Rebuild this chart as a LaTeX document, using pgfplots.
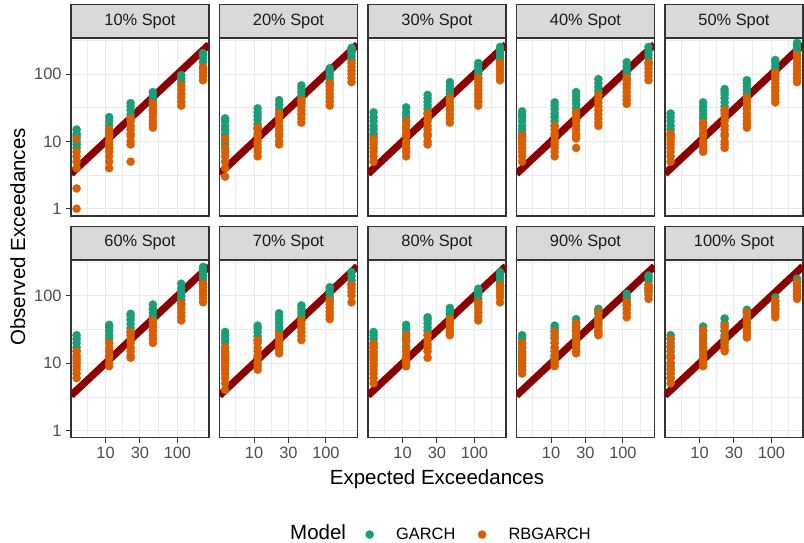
\documentclass[border=0pt]{standalone}
\usepackage{pgfplots}
\pgfplotsset{compat=1.18}
\usepackage{fontspec}
\setmainfont{Liberation Sans}
\definecolor{gridc}{HTML}{EBEBEB}
\definecolor{borderc}{HTML}{333333}
\definecolor{ticklab}{HTML}{4D4D4D}
\definecolor{stripc}{HTML}{D9D9D9}
\definecolor{striptxt}{HTML}{1A1A1A}
\definecolor{garch}{HTML}{1B9E77}
\definecolor{rbgarch}{HTML}{D95F02}
\definecolor{linec}{HTML}{8B0000}
\newcommand{\fsmall}{\fontsize{16.4}{19.7}\selectfont}
\newcommand{\flarge}{\fontsize{20.5}{24.6}\selectfont}
\pgfplotsset{
 panel/.style={
  anchor=south west, scale only axis, width=138pt, height=177.7pt,
  xmin=3.3, xmax=275, ymin=0.78, ymax=340,
  xtick={10,30,100}, xticklabels={10,30,100},
  ytick={1,10,100}, yticklabels={1,10,100},
  minor xtick={5.48,17.3,54.8,173}, minor ytick={3.16,31.6,316},
  grid=both,
  major grid style={draw=gridc, line width=1.1pt},
  minor grid style={draw=gridc, line width=0.55pt},
  minor tick length=0pt, major tick length=5pt, tick align=outside,
  xtick pos=bottom, ytick pos=left,
  tick style={draw=borderc, line width=1.0pt},
  axis line style={draw=borderc, line width=1.1pt},
  ticklabel style={font=\fsmall, text=ticklab},
  xticklabel style={inner sep=0pt, anchor=north, yshift=-4pt},
  yticklabel style={inner sep=0pt, anchor=east, xshift=-4.3pt},
  /pgf/number format/assume math mode=true,
  every axis title shift=0pt,
  title style={at={(0.5,1)}, anchor=south, yshift=0pt, fill=stripc, draw=borderc, line width=1.1pt, minimum width=138pt, minimum height=33.3pt, inner sep=0pt, font=\fsmall, text=striptxt},
 },
 notbottom/.style={xticklabels={}, xtick style={draw=none}},
 notleft/.style={yticklabels={}, ytick style={draw=none}},
 gp/.style={only marks, mark=*, mark size=4.1pt, color=garch, mark options={line width=0.3pt}},
 rp/.style={only marks, mark=*, mark size=4.1pt, color=rbgarch, mark options={line width=0.3pt}},
 dl/.style={no marks, color=linec, line width=7.3pt, forget plot},
}
\begin{document}
\begin{tikzpicture}
\useasboundingbox (0pt,0pt) rectangle (804pt,543pt);
% ---------- 10% ----------
\begin{loglogaxis}[panel, notbottom, at={(71pt,327pt)}, title={10\% Spot}]
\addplot[gp] coordinates {(3.95,8)(3.95,9)(3.95,10)(3.95,12)(3.95,13)(3.95,15)
(11.2,12)(11.2,13)(11.2,15)(11.2,17)(11.2,20)(11.2,23)
(22.3,22)(22.3,25)(22.3,29)(22.3,33)(22.3,37)
(45.5,36)(45.5,41)(45.5,47)(45.5,54)
(113,76)(113,87)(113,97)
(227,150)(227,172)(227,195)(227,205)};
\addplot[rp] coordinates {(3.95,1)(3.95,2)(3.95,4)(3.95,5)(3.95,6)(3.95,7)(3.95,11)
(11.2,4)(11.2,5)(11.2,6)(11.2,7)(11.2,8)(11.2,9)(11.2,10)(11.2,12)(11.2,13)(11.2,15)
(22.3,5)(22.3,9)(22.3,10)(22.3,12)(22.3,13)(22.3,15)(22.3,17)(22.3,20)(22.3,22)
(45.5,16)(45.5,18)(45.5,20)(45.5,23)(45.5,26)(45.5,29)(45.5,33)(45.5,37)
(113,34)(113,39)(113,45)(113,51)(113,59)(113,68)
(227,81)(227,93)(227,106)(227,118)(227,127)};
\addplot[dl] coordinates {(3.3,3.3)(275,275)};
\end{loglogaxis}
% ---------- 20% ----------
\begin{loglogaxis}[panel, notbottom, notleft, at={(219.5pt,327pt)}, title={20\% Spot}]
\addplot[gp] coordinates {(3.95,9)(3.95,10)(3.95,12)(3.95,13)(3.95,15)(3.95,17)(3.95,20)(3.95,22)
(11.2,16)(11.2,18)(11.2,21)(11.2,24)(11.2,27)(11.2,31)
(22.3,26)(22.3,30)(22.3,35)(22.3,41)
(45.5,41)(45.5,47)(45.5,54)(45.5,61)(45.5,68)
(113,76)(113,87)(113,100)(113,112)(113,122)
(227,162)(227,185)(227,210)(227,230)(227,245)};
\addplot[rp] coordinates {(3.95,3)(3.95,4)(3.95,5)(3.95,6)(3.95,7)(3.95,8)(3.95,11)
(11.2,6)(11.2,7)(11.2,8)(11.2,9)(11.2,10)(11.2,12)(11.2,13)(11.2,15)(11.2,16)
(22.3,9)(22.3,10)(22.3,12)(22.3,13)(22.3,15)(22.3,17)(22.3,20)(22.3,23)(22.3,26)
(45.5,19)(45.5,22)(45.5,25)(45.5,29)(45.5,33)(45.5,37)(45.5,41)
(113,34)(113,39)(113,45)(113,51)(113,58)(113,66)(113,73)
(227,76)(227,87)(227,100)(227,113)(227,128)(227,146)};
\addplot[dl] coordinates {(3.3,3.3)(275,275)};
\end{loglogaxis}
% ---------- 30% ----------
\begin{loglogaxis}[panel, notbottom, notleft, at={(368pt,327pt)}, title={30\% Spot}]
\addplot[gp] coordinates {(3.95,12)(3.95,13)(3.95,15)(3.95,17)(3.95,20)(3.95,23)(3.95,27)
(11.2,20)(11.2,23)(11.2,27)(11.2,32)
(22.3,26)(22.3,30)(22.3,34)(22.3,39)(22.3,44)(22.3,49)
(45.5,44)(45.5,50)(45.5,57)(45.5,66)(45.5,76)
(113,87)(113,100)(113,114)(113,130)(113,146)
(227,162)(227,185)(227,210)(227,235)(227,253)};
\addplot[rp] coordinates {(3.95,5)(3.95,6)(3.95,7)(3.95,8)(3.95,9)(3.95,10)(3.95,11)
(11.2,6)(11.2,7)(11.2,8)(11.2,9)(11.2,10)(11.2,12)(11.2,13)(11.2,15)(11.2,17)(11.2,20)
(22.3,9)(22.3,10)(22.3,12)(22.3,13)(22.3,15)(22.3,17)(22.3,20)(22.3,23)(22.3,26)
(45.5,19)(45.5,22)(45.5,25)(45.5,29)(45.5,33)(45.5,38)(45.5,44)
(113,34)(113,39)(113,45)(113,51)(113,58)(113,66)(113,76)(113,87)
(227,81)(227,93)(227,106)(227,121)(227,136)(227,148)};
\addplot[dl] coordinates {(3.3,3.3)(275,275)};
\end{loglogaxis}
% ---------- 40% ----------
\begin{loglogaxis}[panel, notbottom, notleft, at={(516.5pt,327pt)}, title={40\% Spot}]
\addplot[gp] coordinates {(3.95,12)(3.95,13)(3.95,15)(3.95,17)(3.95,20)(3.95,23)(3.95,25)(3.95,28)
(11.2,17)(11.2,20)(11.2,23)(11.2,26)(11.2,30)(11.2,34)(11.2,38)
(22.3,27)(22.3,31)(22.3,36)(22.3,41)(22.3,47)(22.3,54)
(45.5,49)(45.5,56)(45.5,64)(45.5,73)(45.5,84)
(113,87)(113,100)(113,114)(113,130)(113,150)
(227,150)(227,170)(227,195)(227,220)(227,253)};
\addplot[rp] coordinates {(3.95,5)(3.95,6)(3.95,7)(3.95,8)(3.95,9)(3.95,10)(3.95,11)(3.95,12)
(11.2,6)(11.2,7)(11.2,8)(11.2,9)(11.2,10)(11.2,12)(11.2,13)(11.2,15)(11.2,17)
(22.3,8)(22.3,11)(22.3,12)(22.3,13)(22.3,15)(22.3,17)(22.3,20)(22.3,23)(22.3,27)
(45.5,17)(45.5,19)(45.5,22)(45.5,25)(45.5,29)(45.5,33)(45.5,38)(45.5,43)(45.5,49)
(113,36)(113,41)(113,47)(113,54)(113,62)(113,71)(113,80)(113,87)
(227,81)(227,93)(227,106)(227,121)(227,136)(227,148)};
\addplot[dl] coordinates {(3.3,3.3)(275,275)};
\end{loglogaxis}
% ---------- 50% ----------
\begin{loglogaxis}[panel, notbottom, notleft, at={(665pt,327pt)}, title={50\% Spot}]
\addplot[gp] coordinates {(3.95,13)(3.95,15)(3.95,17)(3.95,20)(3.95,23)(3.95,26)
(11.2,19)(11.2,22)(11.2,25)(11.2,29)(11.2,33)(11.2,38)
(22.3,29)(22.3,33)(22.3,38)(22.3,44)(22.3,50)(22.3,55)(22.3,60)
(45.5,45)(45.5,51)(45.5,58)(45.5,66)(45.5,74)(45.5,81)
(113,103)(113,117)(113,132)(113,150)(113,162)
(227,192)(227,215)(227,240)(227,265)(227,290)};
\addplot[rp] coordinates {(3.95,5)(3.95,6)(3.95,7)(3.95,8)(3.95,9)(3.95,10)(3.95,11)(3.95,12)(3.95,13)
(11.2,7)(11.2,8)(11.2,9)(11.2,10)(11.2,12)(11.2,13)(11.2,15)(11.2,17)(11.2,19)
(22.3,8)(22.3,9)(22.3,10)(22.3,12)(22.3,13)(22.3,15)(22.3,17)(22.3,20)(22.3,23)(22.3,26)(22.3,29)
(45.5,16)(45.5,18)(45.5,20)(45.5,23)(45.5,26)(45.5,30)(45.5,34)(45.5,39)(45.5,45)
(113,38)(113,43)(113,49)(113,56)(113,64)(113,73)(113,83)(113,93)(113,103)
(227,76)(227,87)(227,99)(227,113)(227,129)(227,147)(227,167)(227,192)};
\addplot[dl] coordinates {(3.3,3.3)(275,275)};
\end{loglogaxis}
% ---------- 60% ----------
\begin{loglogaxis}[panel, at={(71pt,105.3pt)}, title={60\% Spot}]
\addplot[gp] coordinates {(3.95,15)(3.95,17)(3.95,20)(3.95,23)(3.95,26)
(11.2,20)(11.2,23)(11.2,26)(11.2,30)(11.2,34)(11.2,37)
(22.3,29)(22.3,33)(22.3,38)(22.3,44)(22.3,50)(22.3,54)
(45.5,43)(45.5,49)(45.5,56)(45.5,64)(45.5,74)
(113,76)(113,87)(113,99)(113,113)(113,129)(113,151)
(227,151)(227,172)(227,196)(227,224)(227,250)(227,268)};
\addplot[rp] coordinates {(3.95,6)(3.95,7)(3.95,8)(3.95,9)(3.95,10)(3.95,11)(3.95,12)(3.95,13)(3.95,15)
(11.2,9)(11.2,10)(11.2,12)(11.2,13)(11.2,15)(11.2,17)(11.2,20)
(22.3,12)(22.3,13)(22.3,15)(22.3,17)(22.3,20)(22.3,23)(22.3,26)(22.3,29)
(45.5,20)(45.5,23)(45.5,26)(45.5,30)(45.5,34)(45.5,38)(45.5,43)
(113,43)(113,49)(113,56)(113,64)(113,72)(113,76)
(227,80)(227,91)(227,104)(227,118)(227,134)(227,151)};
\addplot[dl] coordinates {(3.3,3.3)(275,275)};
\end{loglogaxis}
% ---------- 70% ----------
\begin{loglogaxis}[panel, notleft, at={(219.5pt,105.3pt)}, title={70\% Spot}]
\addplot[gp] coordinates {(3.95,12)(3.95,13)(3.95,15)(3.95,17)(3.95,20)(3.95,23)(3.95,26)(3.95,29)
(11.2,22)(11.2,25)(11.2,29)(11.2,33)(11.2,36)
(22.3,26)(22.3,30)(22.3,34)(22.3,39)(22.3,44)(22.3,50)(22.3,55)
(45.5,43)(45.5,49)(45.5,56)(45.5,64)(45.5,72)
(113,85)(113,97)(113,110)(113,124)(113,134)
(227,150)(227,170)(227,195)(227,225)};
\addplot[rp] coordinates {(3.95,4)(3.95,5)(3.95,6)(3.95,7)(3.95,8)(3.95,9)(3.95,10)(3.95,11)(3.95,12)(3.95,14)(3.95,17)
(11.2,8)(11.2,9)(11.2,10)(11.2,12)(11.2,13)(11.2,15)(11.2,17)(11.2,20)(11.2,22)
(22.3,14)(22.3,16)(22.3,18)(22.3,20)(22.3,23)(22.3,26)
(45.5,22)(45.5,25)(45.5,29)(45.5,33)(45.5,38)(45.5,43)
(113,45)(113,51)(113,58)(113,66)(113,75)(113,85)
(227,80)(227,101)(227,115)(227,130)(227,143)};
\addplot[dl] coordinates {(3.3,3.3)(275,275)};
\end{loglogaxis}
% ---------- 80% ----------
\begin{loglogaxis}[panel, notleft, at={(368pt,105.3pt)}, title={80\% Spot},
 legend style={at={(axis description cs:-0.0174,-0.545)}, anchor=west, draw=none, fill=none, inner sep=0pt, outer sep=0pt, nodes={inner sep=0pt, font=\fsmall, text=black}, /tikz/every odd column/.style={column sep=22.4pt}, /tikz/every even column/.style={column sep=22.6pt}},
 legend columns=2,
 legend image code/.code={\draw[#1] plot coordinates {(0pt,0pt)};}]
\addplot[gp] coordinates {(3.95,13)(3.95,15)(3.95,17)(3.95,20)(3.95,23)(3.95,26)(3.95,29)
(11.2,18)(11.2,21)(11.2,24)(11.2,28)(11.2,32)(11.2,37)
(22.3,26)(22.3,30)(22.3,34)(22.3,39)(22.3,44)(22.3,48)
(45.5,41)(45.5,47)(45.5,54)(45.5,60)(45.5,66)
(113,80)(113,91)(113,104)(113,116)(113,127)
(227,142)(227,162)(227,185)(227,210)(227,225)};
\addlegendentry{GARCH}
\addplot[rp] coordinates {(3.95,5)(3.95,6)(3.95,7)(3.95,8)(3.95,9)(3.95,10)(3.95,11)(3.95,12)(3.95,14)(3.95,17)(3.95,19)
(11.2,9)(11.2,10)(11.2,11)(11.2,12)(11.2,13)(11.2,15)(11.2,17)(11.2,22)(11.2,26)
(22.3,12)(22.3,15)(22.3,17)(22.3,19)(22.3,22)(22.3,26)
(45.5,26)(45.5,29)(45.5,33)(45.5,38)(45.5,42)(45.5,45)
(113,43)(113,49)(113,56)(113,64)(113,72)(113,80)
(227,80)(227,95)(227,108)(227,124)(227,142)};
\addlegendentry{RBGARCH}
\addplot[dl] coordinates {(3.3,3.3)(275,275)};
\end{loglogaxis}
% ---------- 90% ----------
\begin{loglogaxis}[panel, notleft, at={(516.5pt,105.3pt)}, title={90\% Spot}]
\addplot[gp] coordinates {(3.95,8)(3.95,9)(3.95,10)(3.95,12)(3.95,13)(3.95,15)(3.95,17)(3.95,20)(3.95,23)(3.95,26)
(11.2,12)(11.2,13)(11.2,15)(11.2,17)(11.2,20)(11.2,23)(11.2,26)(11.2,30)(11.2,33)(11.2,36)
(22.3,20)(22.3,23)(22.3,26)(22.3,30)(22.3,34)(22.3,39)(22.3,45)
(45.5,36)(45.5,41)(45.5,47)(45.5,54)(45.5,60)(45.5,64)
(113,72)(113,82)(113,94)(113,107)
(227,113)(227,128)(227,146)(227,166)(227,185)(227,200)};
\addplot[rp] coordinates {(3.95,7)(3.95,8)(3.95,9)(3.95,11)(3.95,12)(3.95,14)(3.95,17)(3.95,20)
(11.2,9)(11.2,10)(11.2,11)(11.2,13)(11.2,15)(11.2,17)(11.2,20)(11.2,24)(11.2,29)
(22.3,14)(22.3,15)(22.3,17)(22.3,19)(22.3,22)(22.3,26)(22.3,30)(22.3,34)(22.3,39)
(45.5,26)(45.5,28)(45.5,30)(45.5,33)(45.5,39)(45.5,45)(45.5,57)
(113,48)(113,55)(113,63)(113,72)(113,80)
(227,90)(227,103)(227,118)(227,130)(227,142)};
\addplot[dl] coordinates {(3.3,3.3)(275,275)};
\end{loglogaxis}
% ---------- 100% ----------
\begin{loglogaxis}[panel, notleft, at={(665pt,105.3pt)}, title={100\% Spot}]
\addplot[gp] coordinates {(3.95,6)(3.95,7)(3.95,8)(3.95,9)(3.95,10)(3.95,12)(3.95,13)(3.95,15)(3.95,17)(3.95,20)(3.95,23)(3.95,26)
(11.2,12)(11.2,13)(11.2,15)(11.2,17)(11.2,20)(11.2,23)(11.2,26)(11.2,30)(11.2,35)
(22.3,20)(22.3,23)(22.3,26)(22.3,30)(22.3,34)(22.3,39)(22.3,46)
(45.5,34)(45.5,39)(45.5,45)(45.5,52)(45.5,58)(45.5,62)
(113,64)(113,72)(113,82)(113,95)
(227,107)(227,122)(227,140)(227,160)(227,179)};
\addplot[rp] coordinates {(3.95,5)(3.95,6)(3.95,7)(3.95,8)(3.95,10)(3.95,12)(3.95,15)(3.95,18)(3.95,23)
(11.2,9)(11.2,10)(11.2,11)(11.2,13)(11.2,16)(11.2,19)(11.2,24)(11.2,31)
(22.3,15)(22.3,16)(22.3,18)(22.3,21)(22.3,25)(22.3,30)(22.3,36)
(45.5,24)(45.5,26)(45.5,29)(45.5,33)(45.5,40)(45.5,48)(45.5,57)
(113,48)(113,52)(113,57)(113,62)(113,72)(113,85)
(227,90)(227,97)(227,104)(227,120)(227,138)(227,160)};
\addplot[dl] coordinates {(3.3,3.3)(275,275)};
\end{loglogaxis}
\node[rotate=90, anchor=base, font=\flarge, inner sep=0pt] at (25pt,306pt) {Observed Exceedances};
\node[anchor=base, font=\flarge, inner sep=0pt] at (437pt,58pt) {Expected Exceedances};
\node[anchor=base west, font=\flarge, inner sep=0pt] at (290pt,3pt) {Model};
\end{tikzpicture}
\end{document}
